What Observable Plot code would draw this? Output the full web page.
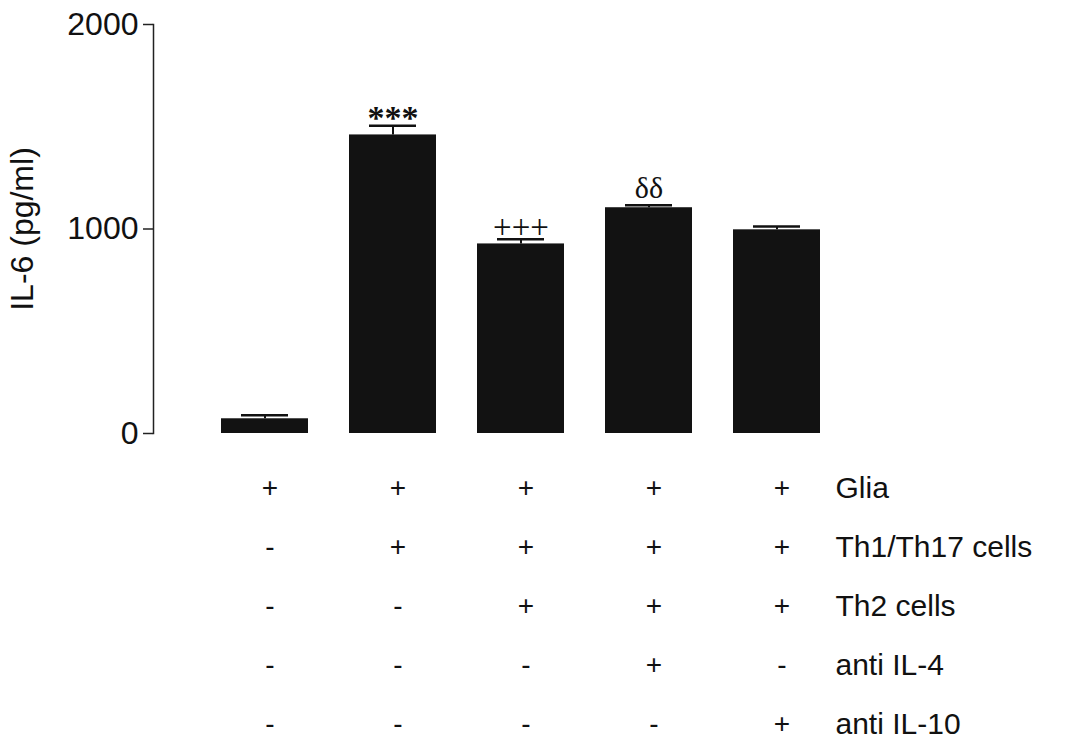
<!DOCTYPE html>
<html>
<head>
<meta charset="utf-8">
<script src="https://cdn.jsdelivr.net/npm/d3@7"></script>
<script src="https://cdn.jsdelivr.net/npm/@observablehq/plot@0.6"></script>
<style>
  html, body { margin: 0; padding: 0; background: #fff; }
  #chart svg { display: block; }
</style>
</head>
<body>
<div id="chart"></div>
<script>
// Experimental groups (one bar each)
const groups = ["g1", "g2", "g3", "g4", "g5"];

// IL-6 release (pg/ml), mean and SEM per group
const il6 = [72, 1460, 927, 1104, 996];
const sem = [17, 45, 23, 12, 16];

// Significance marks above the bars
const signif = ["", "***", "+++", "δδ", ""];

// Treatment table under the bars
const treatments = ["Glia", "Th1/Th17 cells", "Th2 cells", "anti IL-4", "anti IL-10"];
const glia      = ["+", "+", "+", "+", "+"];
const th1th17   = ["-", "+", "+", "+", "+"];
const th2       = ["-", "-", "+", "+", "+"];
const antiIL4   = ["-", "-", "-", "+", "-"];
const antiIL10  = ["-", "-", "-", "-", "+"];

const yTicks = [0, 1000, 2000];

const bars = groups.map((g, i) => ({group: g, value: il6[i], err: sem[i], sig: signif[i]}));
const table = [glia, th1th17, th2, antiIL4, antiIL10].flatMap((row, r) =>
  row.map((s, i) => ({group: groups[i], treatment: treatments[r], sign: s}))
);

const W = 1076;
// shared band scale so the table columns sit under the bars
const xScale = {type: "band", domain: groups, paddingInner: 0.32, paddingOuter: 0.53};
const fontFamily = "'Liberation Sans', Arial, sans-serif";
const serif = "'Liberation Serif', 'Times New Roman', serif";

const chart = Plot.plot({
  width: W,
  height: 450,
  marginTop: 24,
  marginBottom: 17,
  marginLeft: 153,
  marginRight: 187,
  style: {fontFamily, background: "#fff", color: "#111"},
  x: {...xScale, axis: null},
  y: {domain: [0, 2000], axis: null},
  marks: [
    Plot.frame({anchor: "left", stroke: "#222", strokeWidth: 1.5}),
    Plot.axisY({
      ticks: yTicks, tickFormat: d => String(d), tickSize: 10, tickPadding: 5,
      fontSize: 32, stroke: "#222", strokeWidth: 1.5,
      label: "IL-6 (pg/ml)", labelAnchor: "center", labelArrow: "none", labelOffset: 143
    }),
    Plot.ruleX(bars, {x: "group", y1: "value", y2: d => d.value + d.err, stroke: "#111", strokeWidth: 2}),
    Plot.barY(bars, {x: "group", y: "value", fill: "#121212"}),
    Plot.tickY(bars, {x: "group", y: d => d.value + d.err, stroke: "#111", strokeWidth: 2.5, insetLeft: 20, insetRight: 20}),
    Plot.text(bars.filter(d => d.sig === "***"), {
      x: "group", y: d => d.value + d.err, text: "sig", lineAnchor: "bottom",
      dy: 3, fontSize: 34, fontFamily: serif, fontWeight: "bold", fill: "#111"
    }),
    Plot.text(bars.filter(d => d.sig === "+++"), {
      x: "group", y: d => d.value + d.err, text: "sig", lineAnchor: "bottom",
      dy: -1, fontSize: 33, fontFamily: serif, fill: "#111"
    }),
    Plot.text(bars.filter(d => d.sig === "δδ"), {
      x: "group", y: d => d.value + d.err, text: "sig", lineAnchor: "bottom",
      dy: -7, fontSize: 30, fontFamily: serif, fill: "#111"
    })
  ]
});

const tablePlot = Plot.plot({
  width: W,
  height: 300,
  marginTop: 38,
  marginBottom: 26,
  marginLeft: 153,
  marginRight: 187,
  style: {fontFamily, background: "#fff", color: "#111"},
  x: {...xScale, axis: null},
  y: {type: "point", domain: treatments, padding: 0, axis: null},
  marks: [
    Plot.text(table, {x: "group", y: "treatment", text: "sign", dx: 5, fontSize: 28, fill: "#111"}),
    Plot.axisY({
      anchor: "right", tickSize: 0, tickPadding: 0, dx: -54,
      textAnchor: "start", fontSize: 30, label: null
    })
  ]
});

const root = document.getElementById("chart");
root.append(chart, tablePlot);
</script>
</body>
</html>
